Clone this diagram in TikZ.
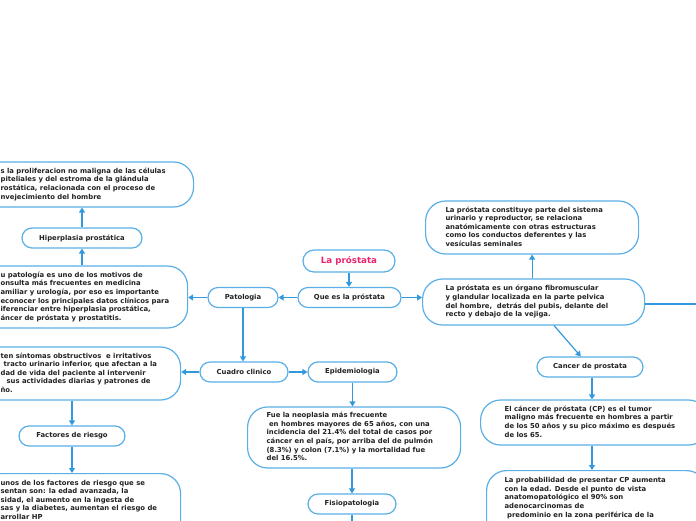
\documentclass[tikz,border=0pt]{standalone}
\usepackage{fontspec}
\setmainfont{DejaVu Sans}
\usetikzlibrary{arrows.meta}
\definecolor{bord}{HTML}{5AAFE6}
\definecolor{arrc}{HTML}{3399DD}
\definecolor{txt}{HTML}{222222}
\definecolor{titlepink}{HTML}{E8246E}
\newcommand\tlines[1]{\begin{tabular}{@{}l@{}}#1\end{tabular}}
\tikzset{
  lab/.style={draw=bord, line width=1.2pt, rounded corners=10pt, fill=white,
    minimum height=20pt, inner sep=0pt, font=\fontsize{6.85}{8.6}\selectfont\bfseries, text=txt},
  tbx/.style={draw=bord, line width=1.2pt, rounded corners=20pt, fill=white,
    inner sep=0pt, font=\fontsize{6.85}{8.6}\selectfont\bfseries, text=txt},
  arr/.style={draw=arrc, line width=1.2pt, -{Triangle[width=6pt,length=5pt]}},
}
\begin{document}
\begin{tikzpicture}[x=1pt,y=-1pt]
\useasboundingbox (0,0) rectangle (696,520);
\clip (0,0) rectangle (696,520);
\fill[white] (0,0) rectangle (696,520);

% label nodes
\node[lab, minimum width=92pt, minimum height=22pt, rounded corners=11pt,
  font=\fontsize{8.7}{10}\selectfont\bfseries, text=titlepink] (title) at (349,261) {La próstata};
\node[lab, minimum width=103pt] (que) at (349.5,297.5) {Que es la próstata};
\node[lab, minimum width=70pt] (pat) at (243,297.5) {Patologia};
\node[lab, minimum width=120pt] (hip) at (82,238) {Hiperplasia prostática};
\node[lab, minimum width=88pt] (cua) at (244,372) {Cuadro clinico};
\node[lab, minimum width=89pt] (epi) at (352.5,372) {Epidemiologia};
\node[lab, minimum width=106pt] (fac) at (72,436) {Factores de riesgo};
\node[lab, minimum width=88pt] (fis) at (352,504) {Fisiopatologia};
\node[lab, minimum width=106pt] (can) at (590,367) {Cancer de prostata};

% text boxes
\node[tbx, anchor=west] (def) at (-20,184.5) {\parbox[c][45pt][c]{213pt}{\hspace*{20pt}\tlines{%
s la proliferacion no maligna de las células\\
piteliales y del estroma de la glándula\\
rostática, relacionada con el proceso de\\
nvejecimiento del hombre}}};

\node[tbx, anchor=west] (ptx) at (-20,297) {\parbox[c][62pt][c]{207pt}{\hspace*{20pt}\tlines{%
u patología es uno de los motivos de\\
onsulta más frecuentes en medicina\\
amiliar y urología, por eso es importante\\
econocer los principales datos clínicos para\\
iferenciar entre hiperplasia prostática,\\
áncer de próstata y prostatitis.}}};

\node[tbx, anchor=west] (sin) at (-20,373.5) {\parbox[c][53pt][c]{200pt}{\hspace*{20pt}\tlines{%
ten síntomas obstructivos\ \ e irritativos\\
\hspace*{3pt}tracto urinario inferior, que afectan a la\\
dad de vida del paciente al intervenir\\
\hspace*{6pt}sus actividades diarias y patrones de\\
ño.}}};

\node[tbx, anchor=north west] (ftx) at (-20,473) {\parbox[c][80pt][t]{200pt}{\vspace*{5.5pt}\hspace*{20pt}\tlines{%
unos de los factores de riesgo que se\\
sentan son: la edad avanzada, la\\
sidad, el aumento en la ingesta de\\
sas y la diabetes, aumentan el riesgo de\\
arrollar HP}}};

\node[tbx, anchor=west] (etx) at (247,437.5) {\parbox[c][61pt][c]{213pt}{\hspace*{19pt}\tlines{%
Fue la neoplasia más frecuente\\
\hspace*{2.5pt}en hombres mayores de 65 años, con una\\
incidencia del 21.4\% del total de casos por\\
cáncer en el país, por arriba del de pulmón\\
(8.3\%) y colon (7.1\%) y la mortalidad fue\\
del 16.5\%.}}};

\node[tbx, anchor=west] (rtop) at (425,227.5) {\parbox[c][53pt][c]{213pt}{\hspace*{20pt}\tlines{%
La próstata constituye parte del sistema\\
urinario y reproductor, se relaciona\\
anatómicamente con otras estructuras\\
como los conductos deferentes y las\\
vesículas seminales}}};

\node[tbx, anchor=west] (rmain) at (422,302) {\parbox[c][46pt][c]{222pt}{\hspace*{23pt}\tlines{%
La próstata es un órgano fibromuscular\\
y glandular localizada en la parte pelvica\\
del hombre,\ \ detrás del pubis, delante del\\
recto y debajo de la vejiga.}}};

\node[tbx, anchor=west] (ctx) at (480,422.5) {\parbox[c][45pt][c]{228pt}{\hspace*{24pt}\tlines{%
El cáncer de próstata (CP) es el tumor\\
maligno más frecuente en hombres a partir\\
de los 50 años y su pico máximo es después\\
de los 65.}}};

\node[tbx, anchor=north west] (ctx2) at (486,470) {\parbox[c][80pt][t]{220pt}{\vspace*{6pt}\hspace*{18pt}\tlines{%
La probabilidad de presentar CP aumenta\\
con la edad. Desde el punto de vista\\
anatomopatológico el 90\% son\\
adenocarcinomas de\\
\hspace*{2.5pt}predominio en la zona periférica de la}}};

% connectors
\coordinate (fisout) at (352,545);
\coordinate (rout) at (730,304);
\draw[arr] (title.south) -- (title.south |- que.north);
\draw[arr] (que.west) -- (pat.east);
\draw[arr] (que.east) -- (que.east -| rmain.west);
\draw[arr] (pat.west) -- (pat.west -| ptx.east);
\draw[arr] (pat.south) -- (pat.south |- cua.north);
\draw[arr] (hip.south |- ptx.north) -- (hip.south);
\draw[arr] (hip.north) -- (hip.north |- def.south);
\draw[arr] (cua.west) -- (cua.west -| sin.east);
\draw[arr] (cua.east) -- (epi.west);
\draw[arr] (epi.south) -- (epi.south |- etx.north);
\draw[arr] (fis.north |- etx.south) -- (fis.north);
\draw[arr] (fis.south) -- (fisout);
\draw[arr] (fac.north |- sin.south) -- (fac.north);
\draw[arr] (fac.south) -- (fac.south |- ftx.north);
\draw[arr] (rtop.south |- rmain.north) -- (rtop.south);
\draw[arr] (rmain.east |- rout) -- (rout);
\draw[arr] (rmain) -- (can);
\draw[arr] ([xshift=2pt]can.south) -- ([xshift=2pt]can.south |- ctx.north);
\draw[arr] ([xshift=2pt]can.south |- ctx.south) -- ([xshift=2pt]can.south |- ctx2.north);
\end{tikzpicture}
\end{document}
